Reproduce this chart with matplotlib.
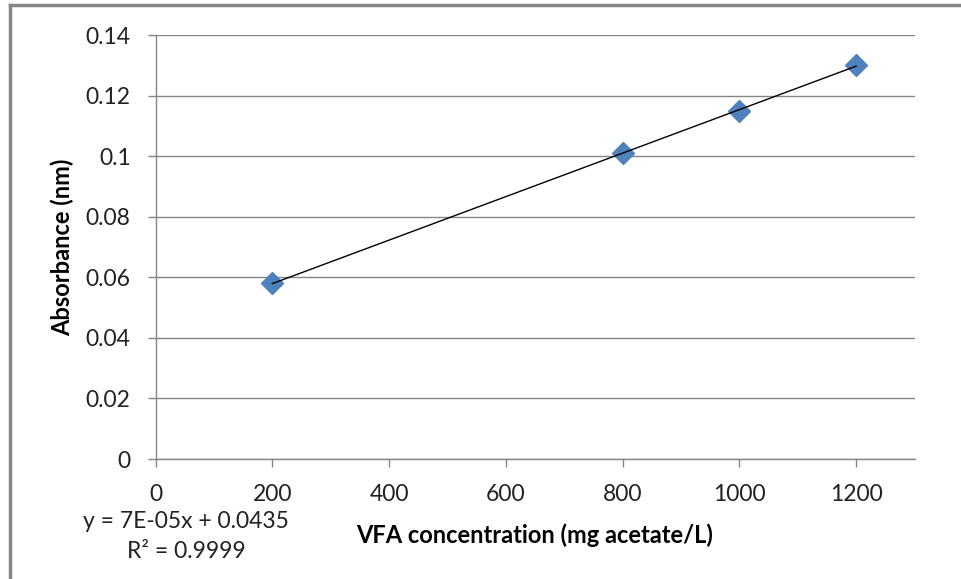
import numpy as np
import matplotlib.pyplot as plt
from matplotlib.lines import Line2D

conc = np.array([200, 800, 1000, 1200])
absorb = np.array([0.058, 0.101, 0.115, 0.130])
xticks = [0, 200, 400, 600, 800, 1000, 1200]
yticks = [0, 0.02, 0.04, 0.06, 0.08, 0.1, 0.12, 0.14]
ytick_labels = ['0', '0.02', '0.04', '0.06', '0.08', '0.1', '0.12', '0.14']

plt.rcParams['font.family'] = ['Lato', 'DejaVu Sans']
grey = '#868686'

fig = plt.figure(figsize=(9.61, 5.79), dpi=100)
W, H = 961, 579
ax = fig.add_axes([155.7 / W, 1 - 459 / H, (914.5 - 155.7) / W, (459 - 35) / H])

ax.set_xlim(0, 1300)
ax.set_ylim(0, 0.14)
ax.set_xticks(xticks)
ax.set_yticks(yticks)
ax.set_yticklabels(ytick_labels)
ax.grid(axis='y', color=grey, linewidth=1)
ax.set_axisbelow(True)
for s in ['top', 'right']:
    ax.spines[s].set_visible(False)
for s in ['left', 'bottom']:
    ax.spines[s].set_color(grey)
    ax.spines[s].set_linewidth(1)
ax.tick_params(axis='both', direction='out', length=6, color=grey, width=1,
               labelsize=16.5, labelcolor='#222222')
ax.tick_params(axis='x', pad=12)
ax.tick_params(axis='y', pad=12)

# linear trendline
k, b = np.polyfit(conc, absorb, 1)
xs = np.array([conc.min(), conc.max()])
ax.plot(xs, k * xs + b, color='black', linewidth=1, zorder=4)
ax.plot(conc, absorb, linestyle='none', marker='D', markersize=11,
        color='#4F81BD', markeredgecolor='#4F81BD', zorder=3)

ax.set_xlabel('VFA concentration (mg acetate/L)', fontsize=17, fontweight='bold')
ax.set_ylabel('Absorbance (nm)', fontsize=17, fontweight='bold')
ax.xaxis.set_label_coords((535 - 155.7) / (914.5 - 155.7), -(535 - 459) / (459 - 35))
ax.xaxis.label.set_va('center')
ax.yaxis.set_label_coords(-(155.7 - 62) / (914.5 - 155.7), (459 - 247) / (459 - 35))
ax.yaxis.label.set_va('center')

fig.text(186 / W, 1 - 522 / H, 'y = 7E-05x + 0.0435', fontsize=16.5, ha='center', va='center', color='#222222')
fig.text(186 / W, 1 - 551 / H, 'R² = 0.9999', fontsize=16.5, ha='center', va='center', color='#222222')

# outer chart border (top and left only visible)
fig.add_artist(Line2D([10 / W, 1], [1 - 5 / H, 1 - 5 / H], color='#888888', linewidth=2.5,
                      transform=fig.transFigure))
fig.add_artist(Line2D([10 / W, 10 / W], [0, 1 - 5 / H], color='#888888', linewidth=2.5,
                      transform=fig.transFigure))

fig.savefig('out.png', dpi=100)
